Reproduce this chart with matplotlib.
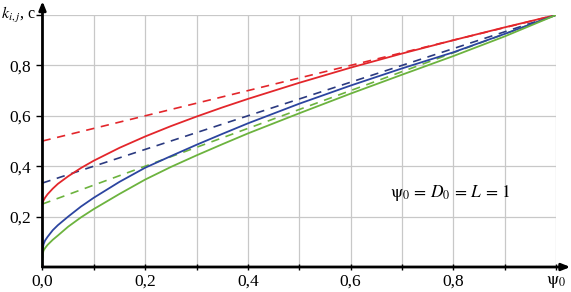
import matplotlib
matplotlib.use("Agg")
import matplotlib.pyplot as plt

plt.rcParams['font.family'] = ['Liberation Serif', 'DejaVu Serif']
plt.rcParams['mathtext.fontset'] = 'stix'

# solid curves
x_red = [0.0, 0.0005, 0.002, 0.005, 0.01, 0.02, 0.03, 0.05, 0.075, 0.1, 0.15, 0.2, 0.25, 0.3, 0.35, 0.4,
         0.5, 0.6, 0.7, 0.8, 0.9, 1.0]
y_red = [0.25, 0.256, 0.264, 0.275, 0.289, 0.311, 0.33, 0.36, 0.393, 0.422, 0.473, 0.518, 0.559, 0.597,
         0.633, 0.667, 0.731, 0.791, 0.847, 0.9, 0.951, 1.0]

x_blue = [0.0, 0.0005, 0.002, 0.005, 0.01, 0.02, 0.03, 0.05, 0.075, 0.1, 0.15, 0.2, 0.25, 0.3, 0.35, 0.4,
          0.5, 0.6, 0.7, 0.8, 0.9, 1.0]
y_blue = [0.04, 0.07, 0.09, 0.105, 0.12, 0.146, 0.166, 0.2, 0.24, 0.275, 0.338, 0.394, 0.44, 0.485,
          0.528, 0.57, 0.648, 0.72, 0.788, 0.852, 0.925, 1.0]

x_green = [0.0, 0.0005, 0.002, 0.005, 0.01, 0.02, 0.03, 0.05, 0.075, 0.1, 0.15, 0.2, 0.25, 0.3, 0.35, 0.4,
           0.5, 0.6, 0.7, 0.8, 0.9, 1.0]
y_green = [0.03, 0.05, 0.065, 0.075, 0.088, 0.108, 0.125, 0.16, 0.197, 0.23, 0.29, 0.347, 0.397, 0.443,
           0.487, 0.53, 0.61, 0.688, 0.763, 0.837, 0.915, 1.0]

# dashed straight lines (endpoints)
x_dash = [0.0, 1.0]
y_red_dash = [0.5, 1.0]
y_blue_dash = [1/3, 1.0]
y_green_dash = [0.25, 1.0]

xticks = [0.0, 0.1, 0.2, 0.3, 0.4, 0.5, 0.6, 0.7, 0.8, 0.9, 1.0]
xticklabels = ["0,0", "", "0,2", "", "0,4", "", "0,6", "", "0,8", "", r"$\mathrm{\psi}_0$"]
yticks = [0.2, 0.4, 0.6, 0.8, 1.0]
yticklabels = ["0,2", "0,4", "0,6", "0,8", ""]

RED = "#e3262b"
BLUE = "#2c45a0"
BLUE_D = "#2b3a80"
GREEN = "#6cb33e"

fig = plt.figure(figsize=(5.71, 2.92), dpi=100)
ax = fig.add_axes([0.0744, 0.0856, 0.8993, 0.863])

ax.plot(x_dash, y_red_dash, color=RED, lw=1.2, dashes=(5, 4))
ax.plot(x_dash, y_blue_dash, color=BLUE_D, lw=1.2, dashes=(5, 4))
ax.plot(x_dash, y_green_dash, color=GREEN, lw=1.2, dashes=(5, 4))
ax.plot(x_red, y_red, color=RED, lw=1.3)
ax.plot(x_blue, y_blue, color=BLUE, lw=1.3)
ax.plot(x_green, y_green, color=GREEN, lw=1.3)

ax.set_xlim(0, 1)
ax.set_ylim(0, 1)
ax.set_xticks(xticks)
ax.set_xticklabels(xticklabels, fontsize=12.5)
ax.set_yticks(yticks)
ax.set_yticklabels(yticklabels, fontsize=12.5)
ax.grid(True, color="#c8c8c8", lw=0.9)
ax.set_axisbelow(True)
for s in ["top", "right", "left", "bottom"]:
    ax.spines[s].set_visible(False)
ax.tick_params(axis='x', length=4, width=1, direction='inout', pad=3)
ax.tick_params(axis='y', length=4, width=1, direction='out', pad=4)

# axes with arrows
ax.annotate('', xy=(1.028, 0), xytext=(0, 0), xycoords='axes fraction',
            arrowprops=dict(arrowstyle='-|>,head_length=0.5,head_width=0.2', lw=2, color='black',
                            shrinkA=0, shrinkB=0), annotation_clip=False)
ax.annotate('', xy=(0, 1.055), xytext=(0, 0), xycoords='axes fraction',
            arrowprops=dict(arrowstyle='-|>,head_length=0.5,head_width=0.2', lw=2, color='black',
                            shrinkA=0, shrinkB=0), annotation_clip=False)

fig.text(1 / 571, 1 - 15 / 292, r"$k_{i,j}$, c", fontsize=11.5, ha='left', va='center')
ax.text(0.677, 0.294, r"$\mathrm{\psi}_0 \,=\, D_0 \,=\, L \,=\, 1$", fontsize=12.5, ha='left', va='center')

fig.savefig("out.png", dpi=100)
